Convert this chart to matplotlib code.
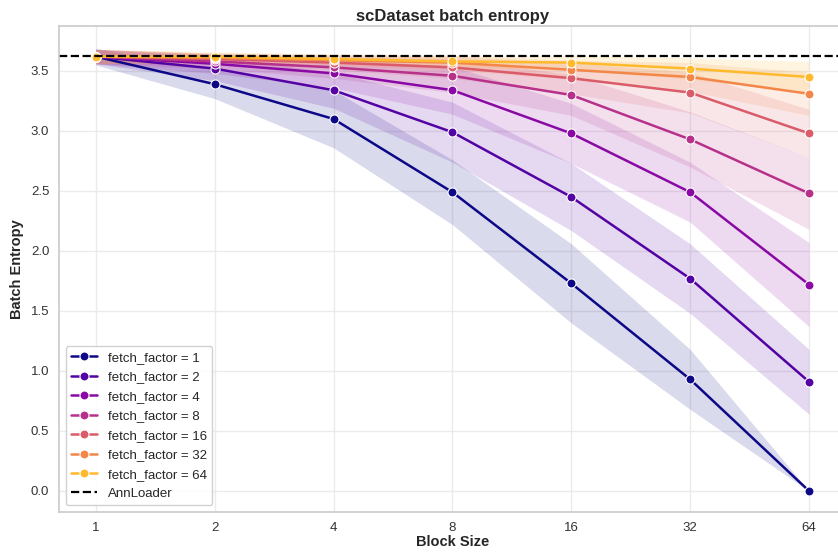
import numpy as np
import matplotlib
matplotlib.use("Agg")
import matplotlib.pyplot as plt
import seaborn as sns

# block sizes on the x axis
block_sizes = [1, 2, 4, 8, 16, 32, 64]
fetch_factors = [1, 2, 4, 8, 16, 32, 64]

# mean batch entropy per fetch factor
mean_ff1 = [3.62, 3.39, 3.10, 2.49, 1.73, 0.93, 0.00]
mean_ff2 = [3.62, 3.52, 3.34, 2.99, 2.45, 1.77, 0.91]
mean_ff4 = [3.62, 3.56, 3.48, 3.34, 2.98, 2.49, 1.72]
mean_ff8 = [3.62, 3.58, 3.53, 3.46, 3.30, 2.93, 2.48]
mean_ff16 = [3.62, 3.60, 3.57, 3.53, 3.44, 3.32, 2.98]
mean_ff32 = [3.62, 3.61, 3.59, 3.57, 3.51, 3.45, 3.31]
mean_ff64 = [3.62, 3.62, 3.60, 3.58, 3.57, 3.52, 3.45]

# spread (std) of each series
std_ff1 = [0.07, 0.12, 0.24, 0.27, 0.33, 0.25, 0.00]
std_ff2 = [0.06, 0.10, 0.15, 0.25, 0.28, 0.29, 0.27]
std_ff4 = [0.06, 0.08, 0.12, 0.20, 0.25, 0.25, 0.35]
std_ff8 = [0.06, 0.06, 0.09, 0.14, 0.17, 0.23, 0.30]
std_ff16 = [0.06, 0.05, 0.06, 0.09, 0.13, 0.17, 0.20]
std_ff32 = [0.06, 0.04, 0.05, 0.06, 0.08, 0.12, 0.18]
std_ff64 = [0.06, 0.04, 0.04, 0.05, 0.06, 0.09, 0.13]

annloader_entropy = 3.625

means = [mean_ff1, mean_ff2, mean_ff4, mean_ff8, mean_ff16, mean_ff32, mean_ff64]
stds = [std_ff1, std_ff2, std_ff4, std_ff8, std_ff16, std_ff32, std_ff64]

sns.set_theme(style="whitegrid")
plt.rcParams['font.family'] = ['Liberation Sans', 'DejaVu Sans']

fig = plt.figure(figsize=(8.38, 5.52), dpi=100)
# axes run a little past the right edge, as in the original (cropped) figure
ax = fig.add_axes([0.0704, 0.0725, 0.939, 0.8804])

colors = plt.cm.plasma(np.linspace(0, 0.85, len(fetch_factors)))

for ff, m, s, c in zip(fetch_factors, means, stds, colors):
    m = np.array(m)
    s = np.array(s)
    ax.fill_between(block_sizes, m - s, m + s, color=c, alpha=0.15, linewidth=0)
    ax.plot(block_sizes, m, marker='o', color=c, lw=1.8, markersize=6.5,
            markeredgecolor='white', markeredgewidth=0.8,
            label=f"fetch_factor = {ff}")

ax.axhline(annloader_entropy, color='black', ls='--', lw=1.6, label='AnnLoader')

ax.set_xscale('log', base=2)
ax.set_xticks(block_sizes)
ax.set_xticklabels([str(b) for b in block_sizes])
ax.minorticks_off()
ax.set_xlim(2 ** -0.31, 2 ** 6.31)
ax.set_ylim(-0.175, 3.875)
ax.set_yticks(np.arange(0, 3.51, 0.5))
ax.tick_params(labelsize=9.5, pad=7, length=0, labelcolor='#333333')

ax.grid(True, color='#ebebeb', lw=1)
for sp in ax.spines.values():
    sp.set_color('#cccccc')

ax.set_xlabel("Block Size", fontsize=10.5, fontweight='bold', labelpad=1)
ax.set_ylabel("Batch Entropy", fontsize=10.5, fontweight='bold', labelpad=5)
ax.set_title("scDataset batch entropy", fontsize=12, fontweight='bold', pad=3.5)

ax.legend(loc='lower left', fontsize=9.5, frameon=True, framealpha=0.9,
          labelspacing=0.55)

fig.savefig("out.png", dpi=100)
